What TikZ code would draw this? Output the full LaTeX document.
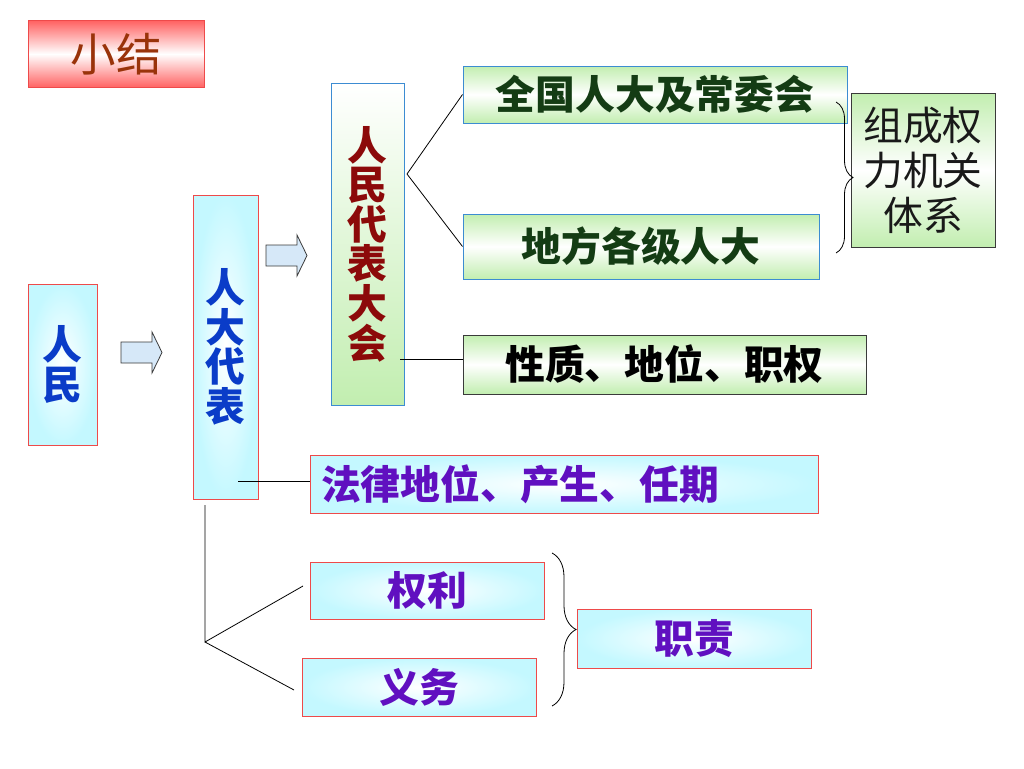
\documentclass[tikz,border=0pt]{standalone}
\usepackage{fontspec}
\setmainfont{Noto Sans CJK SC}
\usetikzlibrary{decorations.pathreplacing}
\definecolor{cyanfill}{HTML}{C4F8FF}
\definecolor{redborder}{HTML}{EE4A4A}
\definecolor{bluetext}{HTML}{0A3CC8}
\definecolor{purptext}{HTML}{6010C0}
\definecolor{darkred}{HTML}{8C0A0A}
\definecolor{greenfill}{HTML}{C2EEB0}
\definecolor{blueborder}{HTML}{3C8CD2}
\definecolor{darkgreen}{HTML}{143C14}
\definecolor{titlered}{HTML}{FF6464}
\definecolor{titletext}{HTML}{99330A}
\definecolor{arrowfill}{HTML}{D6E8F8}
\definecolor{greyborder}{HTML}{3A3A3A}
\tikzset{
  cyanbox/.style={draw=redborder, line width=1pt, inner sep=0pt, inner color=white, outer color=cyanfill},
  greenbox/.style={draw=blueborder, line width=1pt, inner sep=0pt, top color=greenfill, bottom color=greenfill, middle color=white},
  conn/.style={draw=black, line width=0.8pt},
  bracestyle/.style={draw=black, line width=0.8pt, decorate},
  blockarrow/.style={draw=greyborder, line width=0.8pt, fill=arrowfill},
  big/.style={font=\fontsize{39.8}{39.6}\selectfont\bfseries},
}
\begin{document}
\begin{tikzpicture}[x=1pt,y=-1pt]
\useasboundingbox[fill=white] (0,0) rectangle (1024,768);

% title
\node[draw=redborder, line width=1pt, inner sep=0pt, top color=titlered, bottom color=titlered, middle color=white,
      minimum width=176, minimum height=66, text=titletext, font=\fontsize{45.5}{45.5}\selectfont] (title) at (116,54) {小结};

% left column
\node[cyanbox, minimum width=69, minimum height=161, text=bluetext, big, align=center] (rm) at (62.5,364.5) {人\\民};
\node[cyanbox, minimum width=65, minimum height=304, text=bluetext, big, align=center] (rddb) at (225.5,347) {人\\大\\代\\表};
\node[draw=blueborder, line width=1pt, inner sep=0pt, top color=white, bottom color=greenfill,
      minimum width=73, minimum height=322, text=darkred, big, align=center] (rmdbdh) at (367.5,244) {人\\民\\代\\表\\大\\会};

% block arrows
\draw[blockarrow] (121,342) -- (152,342) -- (152,332) -- (162,352.5) -- (152,373) -- (152,363) -- (121,363) -- cycle;
\draw[blockarrow] (266,245) -- (297,245) -- (297,235) -- (307,255.5) -- (297,276) -- (297,266) -- (266,266) -- cycle;

% green boxes
\node[greenbox, minimum width=384, minimum height=57, text=darkgreen, big] (qg) at (655,94.5) {全国人大及常委会};
\node[greenbox, minimum width=356, minimum height=65, text=darkgreen, big] (df) at (641,246.5) {地方各级人大};
\node[greenbox, draw=greyborder, minimum width=403, minimum height=59, text=black, big] (xz) at (664.5,364.5) {性质、地位、职权};
\node[greenbox, draw=greyborder, minimum width=144, minimum height=154, text=black!90, align=center,
      font=\fontsize{39.8}{45}\selectfont] (zc) at (923,170) {组成权\\力机关\\体系};

% cyan boxes
\node[cyanbox, text width=486, inner xsep=11, minimum height=58, align=left, text=purptext, big] (fl) at (564,484) {法律地位、产生、任期};
\node[cyanbox, minimum width=234, minimum height=57, text=purptext, big] (ql) at (427,590.5) {权利};
\node[cyanbox, minimum width=234, minimum height=58, text=purptext, big] (yw) at (419,687) {义务};
\node[cyanbox, minimum width=234, minimum height=59, text=purptext, big] (zz) at (694,638.5) {职责};

% connectors
\coordinate (apex) at (407,174);
\draw[conn] (qg.west) -- (apex) -- (df.west);
\coordinate (xzs) at (400,359);
\draw[conn] (xzs) -- (xzs -| xz.west);
\coordinate (fls) at (238,481);
\draw[conn] (fls) -- (fls -| fl.west);
\coordinate (vt) at (205,505);
\coordinate (vb) at (205,642);
\coordinate (qle) at (303,586);
\coordinate (ywe) at (294,690);
\draw[conn] (vt) -- (vb) -- (qle);
\draw[conn] (vb) -- (ywe);

% braces
\coordinate (b1t) at (836,102);
\coordinate (b1b) at (836,253);
\draw[bracestyle, decoration={brace, amplitude=17pt}] (b1t) -- (b1b);
\coordinate (b2t) at (552,553);
\coordinate (b2b) at (552,706);
\draw[bracestyle, decoration={brace, amplitude=24pt}] (b2t) -- (b2b);
\end{tikzpicture}
\end{document}
